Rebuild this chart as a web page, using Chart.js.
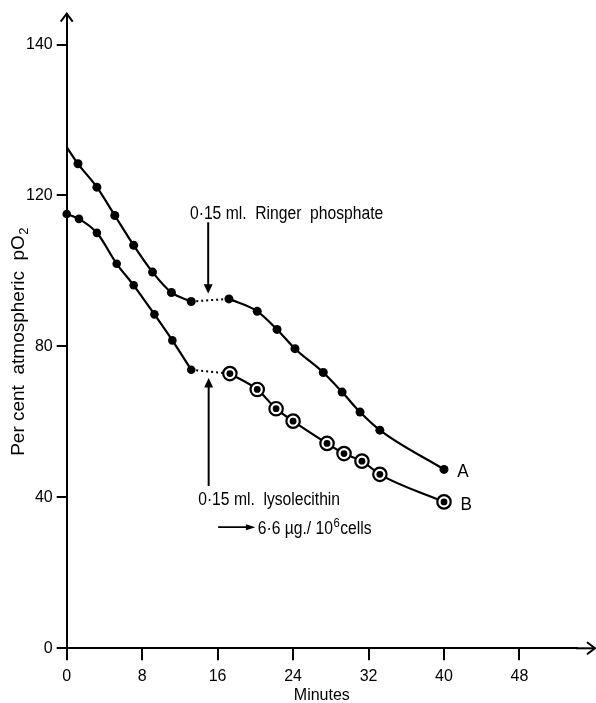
<!DOCTYPE html>
<html><head><meta charset="utf-8">
<script src="https://cdn.jsdelivr.net/npm/chart.js@4"></script>
<style>html,body{margin:0;padding:0;background:#fff}canvas{display:block}</style>
</head><body>
<canvas id="c" width="596" height="703"></canvas>
<script>
// ---- data ----
const minutesA = [0, 1.2, 3.2, 5.1, 7.1, 9.1, 11.1, 13.2, 17.2, 20.2, 22.3, 24.2, 27.2, 29.2, 31.1, 33.2, 40];
const pO2A     = [132.8, 128.4, 122.2, 114.7, 106.8, 99.7, 94.3, 91.9, 92.6, 89.3, 84.5, 79.4, 73.1, 67.9, 62.6, 57.8, 47.4];
const minutesB = [0, 1.3, 3.2, 5.3, 7.1, 9.3, 11.2, 13.2, 17.3, 20.2, 22.2, 24.0, 27.6, 29.4, 31.3, 33.2, 40];
const pO2B     = [115.1, 113.8, 110.1, 101.9, 96.2, 88.5, 81.6, 73.8, 72.8, 68.6, 63.5, 60.2, 54.3, 51.6, 49.6, 46.1, 38.8];
const gapIndex = 7; // last reading before the addition (dotted gap follows)
const xTickValues = [0, 8, 16, 24, 32, 40, 48];
const yTickValues = [0, 40, 80, 120, 160];
const yTickLabels = ['0', '40', '80', '120', '140'];

const FONT = "'Liberation Sans', Arial, sans-serif";

function pts(xs, ys, a, b) {
  return xs.slice(a, b).map((x, i) => ({x: x, y: ys[a + i]}));
}
const n = minutesA.length;

const lineBase = {borderColor: '#000', borderWidth: 2.2, cubicInterpolationMode: 'monotone',
  pointBackgroundColor: '#000', pointBorderColor: '#000', pointBorderWidth: 0, fill: false, clip: false};

const datasets = [
  Object.assign({}, lineBase, {label: 'A', data: pts(minutesA, pO2A, 0, gapIndex + 1), order: 3,
    pointRadius: ctx => ctx.dataIndex === 0 ? 0 : 4.5}),
  Object.assign({}, lineBase, {label: 'A gap', data: pts(minutesA, pO2A, gapIndex, gapIndex + 2), order: 3,
    borderWidth: 2, borderDash: [2, 3], pointRadius: 0, tension: 0, cubicInterpolationMode: 'default'}),
  Object.assign({}, lineBase, {label: 'A after', data: pts(minutesA, pO2A, gapIndex + 1, n), order: 3,
    pointRadius: 4.5}),
  Object.assign({}, lineBase, {label: 'B', data: pts(minutesB, pO2B, 0, gapIndex + 1), order: 3,
    pointRadius: 4.3}),
  Object.assign({}, lineBase, {label: 'B gap', data: pts(minutesB, pO2B, gapIndex, gapIndex + 2), order: 3,
    borderWidth: 2, borderDash: [2, 3], pointRadius: 0, tension: 0, cubicInterpolationMode: 'default'}),
  Object.assign({}, lineBase, {label: 'B after', data: pts(minutesB, pO2B, gapIndex + 1, n), order: 2,
    pointRadius: 6.7, pointBackgroundColor: '#fff', pointBorderWidth: 2.2}),
  Object.assign({}, lineBase, {label: 'B after core', data: pts(minutesB, pO2B, gapIndex + 1, n), order: 1,
    showLine: false, pointRadius: 3.4})
];

// draws text with slight horizontal condensing (the original face is a condensed grotesque)
function txt(ctx, s, x, y, size, sx) {
  sx = sx || 0.87;
  ctx.save();
  ctx.font = size + 'px ' + FONT;
  ctx.textAlign = 'left';
  ctx.textBaseline = 'alphabetic';
  ctx.translate(x, y);
  ctx.scale(sx, 1);
  ctx.fillText(s, 0, 0);
  const w = ctx.measureText(s).width * sx;
  ctx.restore();
  return w;
}

const decor = {
  id: 'decor',
  afterDraw(chart) {
    const {ctx, chartArea: ca, scales: {x, y}} = chart;
    const X = v => x.getPixelForValue(v), Y = v => y.getPixelForValue(v);
    ctx.save();
    ctx.strokeStyle = '#000'; ctx.fillStyle = '#000'; ctx.lineWidth = 2;
    ctx.lineCap = 'butt';
    const ax = X(0), ay = Y(0);
    // x axis extension + arrow
    const xEnd = chart.width - 1;
    ctx.beginPath(); ctx.moveTo(ca.right - 1, ay); ctx.lineTo(xEnd, ay); ctx.stroke();
    ctx.beginPath(); ctx.moveTo(xEnd - 8, ay - 6); ctx.lineTo(xEnd, ay); ctx.lineTo(xEnd - 8, ay + 6); ctx.stroke();
    // y axis arrow
    const yTop = ca.top;
    ctx.beginPath(); ctx.moveTo(ax - 6, yTop + 8); ctx.lineTo(ax, yTop); ctx.lineTo(ax + 6, yTop + 8); ctx.stroke();

    // y axis title with subscript
    ctx.save();
    ctx.translate(24, (Y(yTickValues[1]) + Y(yTickValues[2])) / 2 - 80);
    ctx.rotate(-Math.PI / 2);
    ctx.font = '19px ' + FONT;
    const main = 'Per cent  atmospheric  pO';
    const wMain = ctx.measureText(main).width;
    ctx.font = '13px ' + FONT;
    const wSub = ctx.measureText('2').width;
    const total = wMain + wSub;
    ctx.font = '19px ' + FONT;
    ctx.textBaseline = 'alphabetic';
    ctx.fillText(main, -total / 2, 0);
    ctx.font = '13px ' + FONT;
    ctx.fillText('2', -total / 2 + wMain + 0.5, 4);
    ctx.restore();

    // Ringer phosphate arrow (down)
    const rx = X(15.0);
    ctx.beginPath(); ctx.moveTo(rx, Y(112.9)); ctx.lineTo(rx, Y(96.0)); ctx.stroke();
    ctx.beginPath(); ctx.moveTo(rx - 4.5, Y(96.5)); ctx.lineTo(rx + 4.5, Y(96.5)); ctx.lineTo(rx, Y(94.0)); ctx.closePath(); ctx.fill();
    txt(ctx, '0\u00b715 ml.  Ringer  phosphate', X(13.07), Y(113.7), 18);

    // lysolecithin arrow (up)
    const lx = X(15.05);
    ctx.beginPath(); ctx.moveTo(lx, Y(43.0)); ctx.lineTo(lx, Y(69.5)); ctx.stroke();
    ctx.beginPath(); ctx.moveTo(lx - 4.5, Y(69.1)); ctx.lineTo(lx + 4.5, Y(69.1)); ctx.lineTo(lx, Y(71.6)); ctx.closePath(); ctx.fill();
    txt(ctx, '0\u00b715 ml.  lysolecithin', X(13.94), Y(38.0), 18);

    // dose line
    const dy = Y(32.1);
    ctx.lineWidth = 1.6;
    ctx.beginPath(); ctx.moveTo(X(16.05), dy); ctx.lineTo(X(19.6), dy); ctx.stroke();
    ctx.beginPath(); ctx.moveTo(X(19.0), dy - 3); ctx.lineTo(X(20.0), dy); ctx.lineTo(X(19.0), dy + 3); ctx.closePath(); ctx.fill();
    let tx = X(20.25), tb = Y(30.4);
    tx += txt(ctx, '6\u00b76 \u00b5g./ 10', tx, tb, 18);
    tx += txt(ctx, '6', tx + 0.5, tb - 7, 13);
    txt(ctx, 'cells', tx + 1, tb, 18);

    // series labels
    txt(ctx, 'A', X(41.4), Y(45.4), 18, 0.95);
    txt(ctx, 'B', X(41.75), Y(36.6), 18, 0.95);
    ctx.restore();
  }
};

new Chart(document.getElementById('c'), {
  type: 'line',
  data: {datasets},
  plugins: [decor],
  options: {
    responsive: false, devicePixelRatio: 1, animation: false, events: [],
    layout: {padding: {left: 0, top: 13, right: 19, bottom: 0}},
    plugins: {legend: {display: false}, tooltip: {enabled: false}},
    elements: {line: {tension: 0.4}},
    scales: {
      x: {
        type: 'linear', min: 0, max: 54.1,
        afterBuildTicks: s => { s.ticks = xTickValues.map(v => ({value: v})); },
        afterFit: s => { s.height = 54.7; },
        ticks: {autoSkip: false, maxRotation: 0, padding: 7, color: '#000',
          font: {family: FONT, size: 16}, callback: v => String(v)},
        grid: {drawOnChartArea: false, drawTicks: true, tickLength: 12, color: '#000', lineWidth: 2},
        border: {display: true, color: '#000', width: 2},
        title: {display: true, text: 'Minutes', color: '#000', font: {family: FONT, size: 16, lineHeight: 1},
          padding: {top: 0, bottom: -1}}
      },
      y: {
        type: 'linear', min: 0, max: 168.2,
        afterBuildTicks: s => { s.ticks = yTickValues.map(v => ({value: v})); },
        afterFit: s => { s.width = 66.7; },
        ticks: {padding: 4, color: '#000', font: {family: FONT, size: 16},
          callback: v => yTickLabels[yTickValues.indexOf(v)]},
        grid: {drawOnChartArea: false, drawTicks: true, tickLength: 10, color: '#000', lineWidth: 2},
        border: {display: true, color: '#000', width: 2}
      }
    }
  }
});
</script>
</body></html>
